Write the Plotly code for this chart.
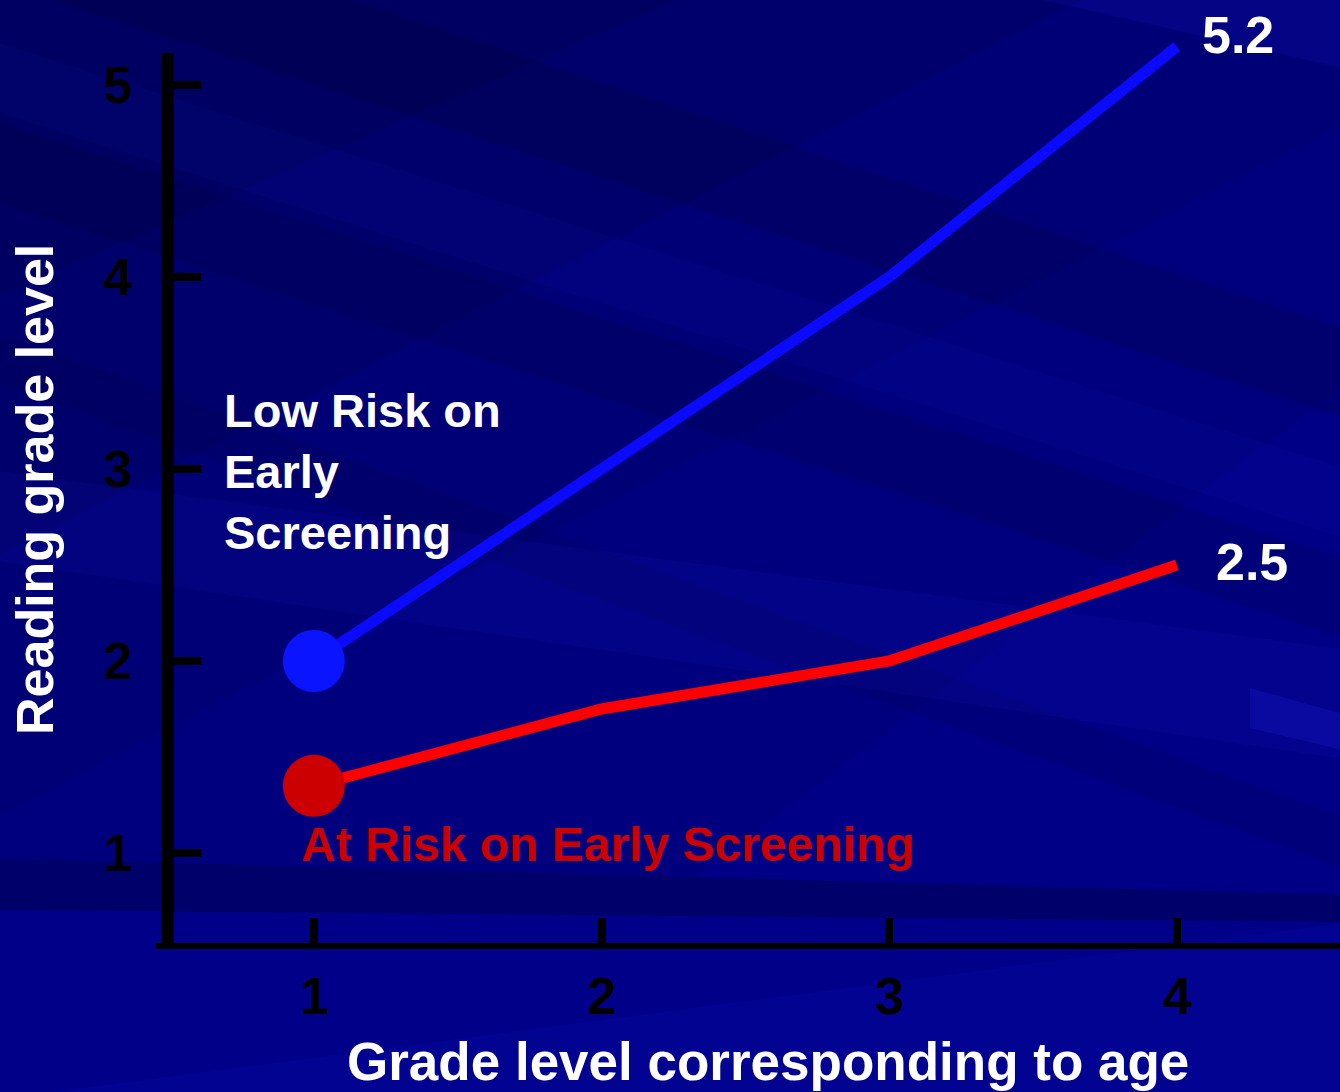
import plotly.graph_objects as go

# ---------------- data ----------------
grades = [1, 2, 3, 4]
low_risk = [2.0, 3.0, 4.0, 5.2]
at_risk = [1.35, 1.75, 2.0, 2.5]
x_ticks = [1, 2, 3, 4]
y_ticks = [1, 2, 3, 4, 5]
low_label = "Low Risk on<br>Early<br>Screening"
at_label = "At Risk on Early Screening"
x_title = "Grade level corresponding to age"
y_title = "Reading grade level"

# ---------------- geometry ----------------
W, H = 1340, 1092
ML, MB = 170, 143
PW, PH = W - ML, H - MB
X_RANGE = [0.5, 0.5 + PW / 287.67]
Y_RANGE = [0.5, 0.5 + PH / 192.0]
FONT = "Liberation Sans, Arial, Helvetica, sans-serif"


def pp(px, py):
    return (px - ML) / PW, 1 - py / PH


def poly(pts, color):
    coords = [pp(x, y) for x, y in pts]
    path = "M " + " L ".join(f"{x:.5f},{y:.5f}" for x, y in coords) + " Z"
    return dict(type="path", path=path, xref="paper", yref="paper",
                fillcolor=color, line=dict(width=0), layer="below")


def band(yl0, yr0, yl1, yr1, color):
    return poly([(-10, yl0), (1350, yr0), (1350, yr1), (-10, yl1)], color)


shapes = []
# soft gradient: darker upper-left, lighter lower-right
shapes.append(poly([(-10, -10), (1350, -10), (1350, 1100), (-10, 1100)], "#000062"))
shapes.append(poly([(-10, 300), (700, -10), (1350, -10), (1350, 1100), (-10, 1100)], "#00006C"))
shapes.append(poly([(-10, 560), (1100, -10), (1350, -10), (1350, 1100), (-10, 1100)], "#000076"))
shapes.append(poly([(-10, 820), (1350, 120), (1350, 1100), (-10, 1100)], "#00007E"))
shapes.append(poly([(400, 1100), (1350, 380), (1350, 1100)], "#000086"))
# subtle diagonal streaks
shapes.append(band(-120, 330, -20, 420, "rgba(0,0,30,0.15)"))
shapes.append(band(120, 560, 200, 640, "rgba(0,0,30,0.13)"))
shapes.append(band(330, 820, 380, 870, "rgba(0,0,30,0.10)"))
shapes.append(band(-300, 0, -240, 70, "rgba(40,40,255,0.10)"))
shapes.append(band(40, 470, 110, 540, "rgba(40,40,255,0.06)"))
shapes.append(band(470, 650, 560, 760, "rgba(40,40,255,0.07)"))
shapes.append(poly([(1250, 688), (1350, 716), (1350, 752), (1250, 728)], "rgba(50,50,255,0.16)"))
# bottom bands
shapes.append(band(858, 895, 910, 922, "#00006A"))
shapes.append(band(910, 922, 1100, 1100, "#000088"))
shapes.append(poly([(-10, 1100), (1350, 922), (1350, 1100)], "rgba(40,40,255,0.08)"))

# axis lines (drawn as shapes so the line stops below the top of the data)
shapes.append(dict(type="line", xref="paper", yref="y", x0=-0.002, x1=-0.002,
                   y0=Y_RANGE[0] - 0.03, y1=5.167, line=dict(color="black", width=12),
                   layer="above"))
shapes.append(dict(type="line", xref="paper", yref="y", x0=-0.012, x1=1.01,
                   y0=Y_RANGE[0], y1=Y_RANGE[0], line=dict(color="black", width=12),
                   layer="above"))

fig = go.Figure()

fig.add_trace(go.Scatter(x=grades, y=low_risk, mode="lines",
                         line=dict(color="#0A0AFF", width=11), showlegend=False,
                         hoverinfo="skip"))
fig.add_trace(go.Scatter(x=grades, y=at_risk, mode="lines",
                         line=dict(color="#FF0000", width=11), showlegend=False,
                         hoverinfo="skip"))
fig.add_trace(go.Scatter(x=grades[:1], y=low_risk[:1], mode="markers",
                         marker=dict(color="#0A14FF", size=62, line=dict(width=0)),
                         showlegend=False, cliponaxis=False, hoverinfo="skip"))
fig.add_trace(go.Scatter(x=grades[:1], y=at_risk[:1], mode="markers",
                         marker=dict(color="#CC0000", size=62, line=dict(width=0)),
                         showlegend=False, cliponaxis=False, hoverinfo="skip"))

annotations = [
    dict(x=grades[-1], y=low_risk[-1], xref="x", yref="y", text=f"{low_risk[-1]}",
         showarrow=False, xanchor="left", yanchor="middle", xshift=23, yshift=12,
         font=dict(family=FONT, size=52, color="white", weight="bold")),
    dict(x=grades[-1], y=at_risk[-1], xref="x", yref="y", text=f"{at_risk[-1]}",
         showarrow=False, xanchor="left", yanchor="middle", xshift=37, yshift=3,
         font=dict(family=FONT, size=52, color="white", weight="bold")),
    dict(x=pp(222, 0)[0], y=2.985, xref="paper", yref="y", text=low_label,
         showarrow=False, xanchor="left", yanchor="middle", align="left",
         font=dict(family=FONT, size=47, color="white", weight="bold")),
    dict(x=pp(299, 0)[0], y=1.045, xref="paper", yref="y", text=at_label,
         showarrow=False, xanchor="left", yanchor="middle", align="left",
         font=dict(family=FONT, size=48, color="#CC0000", weight="bold")),
    dict(x=pp(768, 0)[0], y=pp(0, 1061)[1], xref="paper", yref="paper", text=x_title,
         showarrow=False, xanchor="center", yanchor="middle",
         font=dict(family=FONT, size=53, color="white", weight="bold")),
    dict(x=pp(35, 0)[0], y=pp(0, 490)[1], xref="paper", yref="paper", text=y_title,
         showarrow=False, xanchor="center", yanchor="middle", textangle=-90,
         font=dict(family=FONT, size=52, color="white", weight="bold")),
]

fig.update_layout(
    width=W, height=H,
    margin=dict(l=ML, r=0, t=0, b=MB, pad=0),
    paper_bgcolor="#000078", plot_bgcolor="rgba(0,0,0,0)",
    shapes=shapes, annotations=annotations, showlegend=False,
    xaxis=dict(range=X_RANGE, tickvals=x_ticks, ticktext=[str(v) for v in x_ticks],
               ticks="inside", ticklen=31, tickwidth=8, tickcolor="black",
               showgrid=False, zeroline=False, showline=False,
               tickfont=dict(family=FONT, size=52, color="black", weight="bold"),
               ticklabelstandoff=12, fixedrange=True),
    yaxis=dict(range=Y_RANGE, tickvals=y_ticks, ticktext=[str(v) for v in y_ticks],
               ticks="inside", ticklen=31, tickwidth=8, tickcolor="black",
               showgrid=False, zeroline=False, showline=False,
               tickfont=dict(family=FONT, size=52, color="black", weight="bold"),
               ticklabelstandoff=37, fixedrange=True),
)

fig.write_html("out.html", config={"displayModeBar": False},
               post_script="document.body.style.margin='0';document.body.style.overflow='hidden';")
